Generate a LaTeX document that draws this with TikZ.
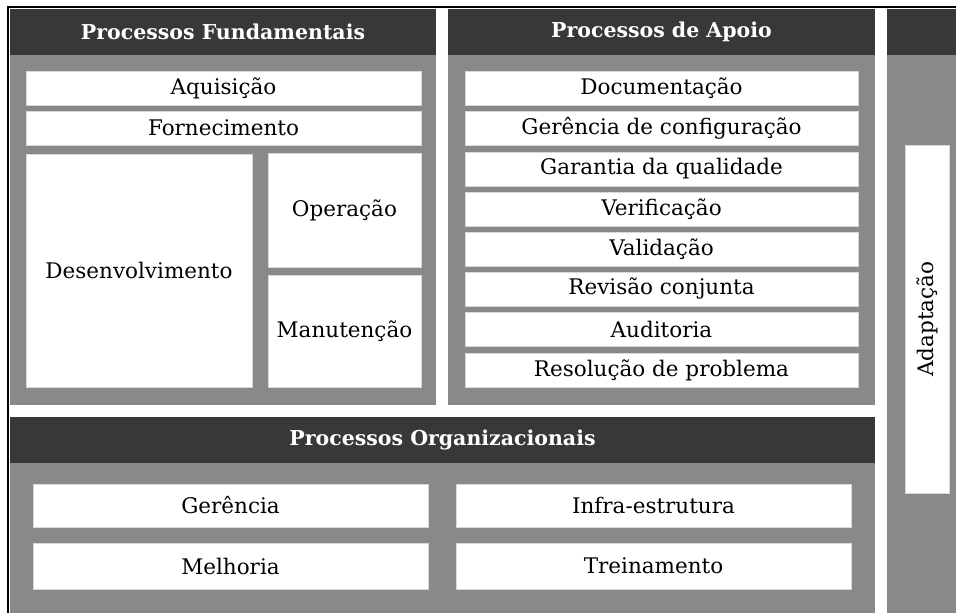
\documentclass[tikz,border=0pt]{standalone}
\usepackage{fontspec}
\setmainfont{DejaVu Serif}
\definecolor{cabec}{HTML}{383838}
\definecolor{painel}{HTML}{898989}
\definecolor{borda}{HTML}{D8D8D8}

\begin{document}
\begin{tikzpicture}[x=1pt, y=-1pt,
		caixa/.style={draw=borda, fill=white, inner sep=0pt, line width=.8pt, font=\fontsize{21.5}{22}\selectfont},
		titulo/.style={text=white, inner sep=0pt, font=\bfseries\fontsize{20.5}{21}\selectfont}]
			\useasboundingbox (0,0) rectangle (956,613);
			
			% paineis
			\fill[painel] (10,9) rectangle (436,405);
			\fill[painel] (448,9) rectangle (875,405);
			\fill[painel] (10,417) rectangle (875,613);
			\fill[painel] (887,9) rectangle (956,613);
			\fill[cabec] (10,9) rectangle (436,55);
			\fill[cabec] (448,9) rectangle (875,55);
			\fill[cabec] (10,417) rectangle (875,463);
			\fill[cabec] (887,9) rectangle (956,55);
			\draw[line width=2.5pt, black] (8,613)--(8,7)--(956,7);
			
			\node[titulo] (tfund) at (223,32){Processos Fundamentais};
			\node[titulo] (tapoio) at (661.5,32){Processos de Apoio};
			\node[titulo] (torg) at (442.5,440){Processos Organizacionais};
			
			% fundamentais
			\node[caixa, minimum width=395pt, minimum height=34pt] (aquis) at (223.5,88){Aquisição};
			\node[caixa, minimum width=395pt, minimum height=34pt] (fornec) at (223.5,128){Fornecimento};
			\node[caixa, minimum width=226pt, minimum height=233pt] (desenv) at (139,270.5){Desenvolvimento};
			\node[caixa, minimum width=153pt, minimum height=114pt] (oper) at (344.5,210){Operação};
			\node[caixa, minimum width=153pt, minimum height=112pt] (manut) at (344.5,331){Manutenção};
			
			% apoio
			\foreach \nome/\y/\texto in {doc/88/Documentação, gconf/128/Gerência de configuração,
				garant/169/Garantia da qualidade, verif/209/Verificação, valid/249/Validação,
				revis/289/Revisão conjunta, audit/329/Auditoria, resol/370/Resolução de problema}
				\node[caixa, minimum width=393pt, minimum height=34pt] (\nome) at (661.5,\y){\texto};
			
			% organizacionais
			\node[caixa, minimum width=395pt, minimum height=43pt] (geren) at (230.5,505.5){Gerência};
			\node[caixa, minimum width=395pt, minimum height=46pt] (melhor) at (230.5,566){Melhoria};
			\node[caixa, minimum width=395pt, minimum height=43pt] (infra) at (653.5,505.5){Infra-estrutura};
			\node[caixa, minimum width=395pt, minimum height=46pt] (trein) at (653.5,566){Treinamento};
			
			\node[caixa, minimum width=44pt, minimum height=348pt] (adapt) at (927,319){};
			\node[rotate=90, inner sep=0pt, font=\fontsize{21.5}{22}\selectfont] (tadapt) at (adapt.center){Adaptação};
		\end{tikzpicture}
\end{document}
